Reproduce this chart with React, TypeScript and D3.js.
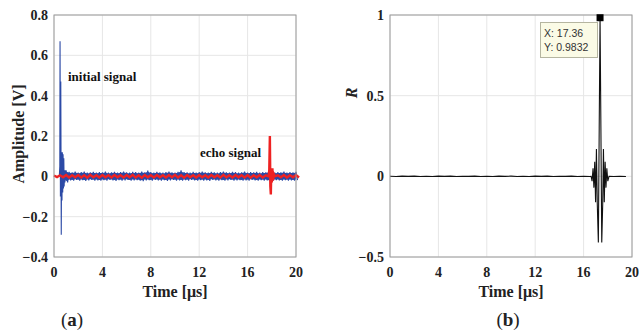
import React from "react";
import * as d3 from "d3";

// ---------- Data ----------
const xTicks = [0, 4, 8, 12, 16, 20];
const yTicksA = [-0.4, -0.2, 0, 0.2, 0.4, 0.6, 0.8];
const yTicksB = [-0.5, 0, 0.5, 1];

// Panel (a): initial transducer pulse (blue), [time µs, amplitude V]
const bluePulse: [number, number][] = [
  [0.44, 0.0], [0.48, 0.05], [0.5, 0.67], [0.53, -0.1], [0.56, 0.47], [0.6, -0.29],
  [0.63, 0.12], [0.66, -0.12], [0.69, 0.12], [0.72, -0.08], [0.75, 0.11], [0.78, -0.06],
  [0.81, 0.09], [0.84, -0.05], [0.87, 0.03], [0.9, -0.03], [0.95, 0.03], [1.0, -0.02],
];
// blue noise band, upper / lower excursions every 0.25 µs from 1.0 µs
const blueStart = 1.0;
const blueStep = 0.25;
const blueUpper = [
  0.03, 0.022, 0.02, 0.024, 0.019, 0.021, 0.023, 0.018, 0.02, 0.022,
  0.019, 0.021, 0.02, 0.023, 0.018, 0.02, 0.022, 0.019, 0.021, 0.024,
  0.02, 0.018, 0.022, 0.021, 0.019, 0.023, 0.02, 0.028, 0.021, 0.019,
  0.022, 0.02, 0.018, 0.021, 0.023, 0.02, 0.019, 0.022, 0.03, 0.021,
  0.02, 0.018, 0.022, 0.019, 0.021, 0.024, 0.02, 0.019, 0.022, 0.02,
  0.018, 0.021, 0.023, 0.02, 0.019, 0.022, 0.021, 0.018, 0.02, 0.023,
  0.019, 0.021, 0.02, 0.022, 0.018, 0.021, 0.02, 0.026, 0.022, 0.019,
  0.021, 0.02, 0.023, 0.019, 0.021, 0.02, 0.022,
];
const blueLower = [
  -0.03, -0.02, -0.022, -0.018, -0.021, -0.019, -0.023, -0.02, -0.018, -0.021,
  -0.02, -0.022, -0.019, -0.021, -0.018, -0.02, -0.023, -0.019, -0.021, -0.02,
  -0.018, -0.022, -0.02, -0.019, -0.021, -0.024, -0.02, -0.019, -0.022, -0.018,
  -0.02, -0.021, -0.019, -0.023, -0.02, -0.018, -0.021, -0.02, -0.022, -0.019,
  -0.021, -0.018, -0.02, -0.022, -0.019, -0.021, -0.02, -0.023, -0.018, -0.02,
  -0.021, -0.019, -0.022, -0.02, -0.018, -0.021, -0.02, -0.019, -0.022, -0.02,
  -0.021, -0.018, -0.02, -0.022, -0.019, -0.021, -0.02, -0.025, -0.021, -0.019,
  -0.02, -0.022, -0.019, -0.021, -0.02, -0.022, -0.019,
];

// red (echo) band, upper / lower every 0.5 µs from 0
const redStart = 0;
const redStep = 0.5;
const redUpper = [
  0.004, 0.005, 0.006, 0.005, 0.006, 0.005, 0.007, 0.005, 0.006, 0.005,
  0.006, 0.005, 0.006, 0.007, 0.005, 0.006, 0.005, 0.006, 0.005, 0.006,
  0.007, 0.005, 0.006, 0.005, 0.006, 0.005, 0.006, 0.005, 0.007, 0.005,
  0.006, 0.005, 0.006, 0.005, 0.006, 0.005, 0.006, 0.005, 0.006, 0.005, 0.006,
];
const redLower = [
  -0.004, -0.005, -0.006, -0.005, -0.006, -0.007, -0.005, -0.006, -0.005, -0.006,
  -0.005, -0.006, -0.005, -0.006, -0.007, -0.005, -0.006, -0.005, -0.006, -0.005,
  -0.006, -0.007, -0.005, -0.006, -0.005, -0.006, -0.005, -0.006, -0.005, -0.006,
  -0.005, -0.006, -0.007, -0.005, -0.006, -0.005, -0.006, -0.005, -0.006, -0.005, -0.006,
];
const redEcho: [number, number][] = [
  [17.74, 0.0], [17.79, 0.03], [17.84, 0.2], [17.88, -0.05], [17.92, -0.09],
  [17.96, 0.04], [18.0, -0.03], [18.05, 0.04], [18.1, -0.02], [18.18, 0.01], [18.26, 0.0],
];

// Panel (b): cross-correlation R
const corrBaseline = [
  0.0005, -0.001, 0.001, -0.0005, 0.001, -0.001, 0.0005, -0.001, 0.001, -0.0005,
  0.001, -0.001, 0.0005, -0.0005, 0.001, -0.001, 0.0005, -0.001, 0.001, -0.0005,
  0.001, -0.001, 0.0005, -0.001, 0.001, -0.0005, 0.001, -0.001, 0.0005, -0.0005,
  0.001, -0.001, 0.0005, -0.001, 0.001, -0.0005, 0.001, -0.001, 0.0005, -0.001,
];
const corrBaseStep = 0.5;
const corrBurst: [number, number][] = [
  [16.62, 0.0], [16.7, -0.03], [16.78, 0.05], [16.85, -0.07], [16.92, 0.09],
  [16.99, -0.16], [17.06, 0.17], [17.13, -0.17], [17.22, -0.41], [17.29, 0.3],
  [17.36, 0.9832], [17.43, 0.3], [17.5, -0.41], [17.58, -0.17], [17.64, 0.17],
  [17.71, -0.16], [17.78, 0.09], [17.85, -0.07], [17.92, 0.05], [18.0, -0.03], [18.1, 0.0],
];
const corrBaseEnd = 19.5;
const peakX = 17.36;
const peakY = 0.9832;

// ---------- Layout ----------
const W = 639;
const H = 331;
const serif = "'Liberation Serif', 'Times New Roman', serif";
const sans = "'Liberation Sans', Arial, sans-serif";

const A = { left: 54, right: 296, top: 15, bottom: 257 };
const B = { left: 390, right: 632, top: 15, bottom: 257 };

function zigzag(start: number, step: number, up: number[], lo: number[]): [number, number][] {
  const pts: [number, number][] = [];
  up.forEach((u, i) => {
    pts.push([start + i * step, u]);
    if (i < lo.length) pts.push([start + i * step + step / 2, lo[i]]);
  });
  return pts;
}

function Frame({ box, x, y, yTicks }: any) {
  return (
    <g>
      {xTicks.map((t) => (
        <line key={"gx" + t} x1={x(t)} x2={x(t)} y1={box.top} y2={box.bottom} stroke="#e6e6e6" strokeWidth={1} />
      ))}
      {yTicks.map((t: number) => (
        <line key={"gy" + t} x1={box.left} x2={box.right} y1={y(t)} y2={y(t)} stroke="#e6e6e6" strokeWidth={1} />
      ))}
    </g>
  );
}

function Axes({ box, x, y, yTicks, fmt }: any) {
  return (
    <g>
      <rect x={box.left} y={box.top} width={box.right - box.left} height={box.bottom - box.top} fill="none" stroke="#9a9a9a" strokeWidth={1} />
      {xTicks.map((t) => (
        <text key={"tx" + t} x={x(t)} y={277} textAnchor="middle" fontFamily={serif} fontWeight="bold" fontSize={14} fill="#222">
          {t}
        </text>
      ))}
      {yTicks.map((t: number) => (
        <text key={"ty" + t} x={box.left - 6} y={y(t)} dy="0.35em" textAnchor="end" fontFamily={serif} fontWeight="bold" fontSize={14} fill="#222">
          {fmt(t)}
        </text>
      ))}
      <text x={(box.left + box.right) / 2} y={297} textAnchor="middle" fontFamily={serif} fontWeight="bold" fontSize={16} fill="#222">
        Time [μs]
      </text>
    </g>
  );
}

export default function App() {
  const xA = d3.scaleLinear().domain([0, 20]).range([A.left, A.right]);
  const yA = d3.scaleLinear().domain([-0.4, 0.8]).range([A.bottom, A.top]);
  const xB = d3.scaleLinear().domain([0, 20]).range([B.left, B.right]);
  const yB = d3.scaleLinear().domain([-0.5, 1]).range([B.bottom, B.top]);

  const fmtSigned = (v: number) => {
    if (v === 0) return "0";
    const s = Math.abs(v).toString();
    return (v < 0 ? "\u2212" : "") + s;
  };

  const lineA = d3.line<[number, number]>().x((d) => xA(d[0])).y((d) => yA(d[1]));
  const lineB = d3.line<[number, number]>().x((d) => xB(d[0])).y((d) => yB(d[1]));

  const blueNoise = zigzag(blueStart, blueStep, blueUpper, blueLower);
  const blueEnv = blueUpper.map((u, i) => ({ t: blueStart + i * blueStep, u, l: blueLower[i] }));
  const areaA = d3
    .area<{ t: number; u: number; l: number }>()
    .x((d) => xA(d.t))
    .y0((d) => yA(d.l * 0.8))
    .y1((d) => yA(d.u * 0.8));

  const redNoise = zigzag(redStart, redStep, redUpper, redLower);
  const redBefore = redNoise.filter((d) => d[0] < redEcho[0][0]);
  const redAfter = redNoise.filter((d) => d[0] > redEcho[redEcho.length - 1][0]);

  const baseB: [number, number][] = corrBaseline.map((v, i) => [i * corrBaseStep, v] as [number, number]);
  const baseBefore = baseB.filter((d) => d[0] < corrBurst[0][0]);
  const baseAfter = baseB.filter((d) => d[0] > corrBurst[corrBurst.length - 1][0] && d[0] <= corrBaseEnd);

  return (
    <svg width={W} height={H} style={{ position: "absolute", left: 0, top: 0, background: "#fff" }}>
      <rect x={0} y={0} width={W} height={H} fill="#fff" />
      {/* Panel (a) */}
      <Frame box={A} x={xA} y={yA} yTicks={yTicksA} />
      <path d={areaA(blueEnv) || ""} fill="#2c4aa6" stroke="none" />
      <path d={lineA([...bluePulse, ...blueNoise]) || ""} fill="none" stroke="#2c4aa6" strokeWidth={1.1} />
      <path d={lineA([...redBefore, ...redEcho, ...redAfter]) || ""} fill="none" stroke="#ee2222" strokeWidth={2.4} />
      <Axes box={A} x={xA} y={yA} yTicks={yTicksA} fmt={fmtSigned} />
      <text x={68} y={81} fontFamily={serif} fontWeight="bold" fontSize={13} fill="#111">initial signal</text>
      <text x={200} y={157} fontFamily={serif} fontWeight="bold" fontSize={13} fill="#111">echo signal</text>
      <text transform={`translate(24,${(A.top + A.bottom) / 2 - 2}) rotate(-90)`} textAnchor="middle" fontFamily={serif} fontWeight="bold" fontSize={16} fill="#222">
        Amplitude [V]
      </text>
      <text x={72} y={326} textAnchor="middle" fontFamily={serif} fontSize={19} fill="#222">
        (<tspan fontWeight="bold">a</tspan>)
      </text>

      {/* Panel (b) */}
      <Frame box={B} x={xB} y={yB} yTicks={yTicksB} />
      <path d={lineB([...baseBefore, ...corrBurst, ...baseAfter]) || ""} fill="none" stroke="#111" strokeWidth={1.1} />
      <Axes box={B} x={xB} y={yB} yTicks={yTicksB} fmt={fmtSigned} />
      <text transform={`translate(357,${(B.top + B.bottom) / 2 - 43}) rotate(-90)`} textAnchor="middle" fontFamily={serif} fontWeight="bold" fontStyle="italic" fontSize={16} fill="#222">
        R
      </text>
      <rect x={xB(peakX) - 3.5} y={yB(peakY) - 3.5} width={7} height={7} fill="#000" />
      <rect x={540.5} y={22.5} width={57} height={35} fill="#fbfbe6" stroke="#b5b5a0" strokeWidth={1} />
      <text x={544} y={37} fontFamily={sans} fontSize={10.5} fill="#333">X: {peakX.toFixed(2)}</text>
      <text x={544} y={51} fontFamily={sans} fontSize={10.5} fill="#333">Y: {peakY.toFixed(4)}</text>
      <text x={508} y={326} textAnchor="middle" fontFamily={serif} fontSize={19} fill="#222">
        (<tspan fontWeight="bold">b</tspan>)
      </text>
    </svg>
  );
}
